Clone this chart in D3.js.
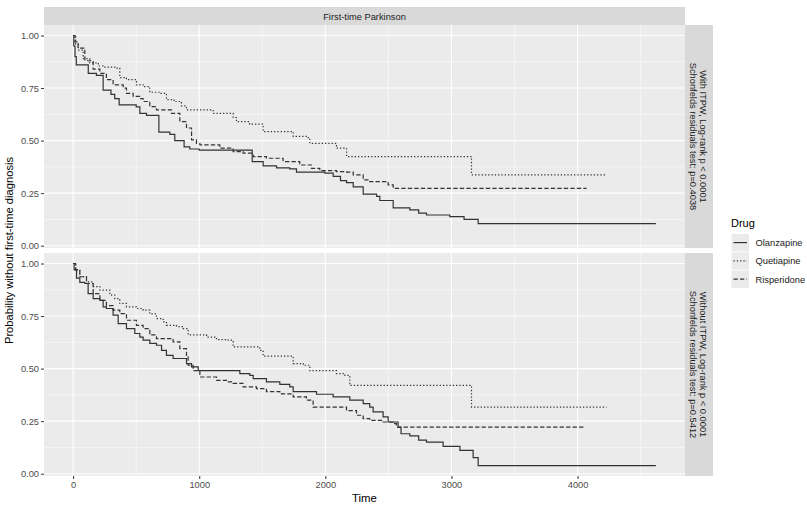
<!DOCTYPE html>
<html>
<head>
<meta charset="utf-8">
<script src="https://cdn.jsdelivr.net/npm/d3@7"></script>
<style>
  body { margin: 0; background: #fff; }
  svg { font-family: "Liberation Sans", Arial, sans-serif; }
</style>
</head>
<body>
<svg id="chart" width="807" height="506"></svg>
<script>
// survival curves: [time, probability]
const withOlanzapine = [[0,1],[5,0.95],[15,0.9],[25,0.86],[120,0.82],[185,0.81],[238,0.74],[300,0.72],[330,0.70],[365,0.67],[500,0.66],[529,0.63],[582,0.62],[680,0.54],[767,0.53],[806,0.50],[880,0.47],[925,0.46],[1000,0.455],[1420,0.40],[1507,0.38],[1613,0.37],[1718,0.365],[1771,0.35],[1996,0.345],[2062,0.33],[2120,0.31],[2168,0.30],[2221,0.28],[2300,0.245],[2406,0.235],[2432,0.215],[2538,0.18],[2670,0.17],[2740,0.155],[2802,0.146],[2987,0.138],[3100,0.125],[3212,0.105],[4621,0.105]];
const withQuetiapine = [[0,1],[20,0.96],[40,0.93],[80,0.89],[132,0.87],[200,0.855],[238,0.85],[330,0.845],[370,0.80],[423,0.79],[502,0.765],[555,0.757],[608,0.73],[687,0.725],[740,0.695],[800,0.686],[859,0.665],[899,0.646],[1110,0.63],[1269,0.61],[1295,0.59],[1400,0.578],[1507,0.543],[1745,0.52],[1864,0.51],[1877,0.487],[2088,0.464],[2168,0.424],[3159,0.337],[4230,0.337]];
const withRisperidone = [[0,1],[15,0.97],[40,0.94],[93,0.88],[159,0.84],[212,0.82],[264,0.79],[317,0.765],[397,0.75],[423,0.725],[476,0.71],[529,0.70],[555,0.686],[608,0.662],[661,0.646],[780,0.63],[846,0.59],[899,0.56],[939,0.503],[978,0.487],[1005,0.48],[1163,0.464],[1269,0.448],[1348,0.44],[1428,0.424],[1533,0.416],[1665,0.40],[1797,0.384],[1890,0.368],[1956,0.357],[2088,0.352],[2168,0.35],[2221,0.337],[2300,0.313],[2352,0.305],[2498,0.289],[2538,0.273],[4071,0.273]];

const withoutOlanzapine = [[0,1],[8,0.97],[27,0.93],[53,0.91],[93,0.905],[119,0.857],[159,0.833],[212,0.825],[238,0.794],[264,0.786],[317,0.754],[357,0.714],[423,0.69],[489,0.667],[529,0.65],[555,0.635],[608,0.62],[661,0.611],[701,0.587],[740,0.563],[793,0.548],[899,0.524],[939,0.508],[992,0.49],[1322,0.476],[1401,0.468],[1428,0.452],[1533,0.437],[1639,0.425],[1718,0.413],[1745,0.39],[1930,0.378],[2062,0.365],[2194,0.35],[2300,0.333],[2352,0.317],[2379,0.294],[2458,0.27],[2498,0.246],[2577,0.22],[2600,0.19],[2670,0.18],[2740,0.16],[2802,0.15],[2934,0.13],[3067,0.111],[3172,0.076],[3212,0.038],[4621,0.038]];
const withoutQuetiapine = [[0,1],[20,0.97],[53,0.937],[106,0.913],[159,0.89],[212,0.873],[291,0.85],[330,0.833],[370,0.81],[423,0.794],[502,0.786],[555,0.778],[608,0.76],[661,0.738],[714,0.722],[740,0.706],[819,0.70],[872,0.69],[912,0.66],[1058,0.65],[1137,0.638],[1216,0.635],[1269,0.603],[1480,0.587],[1507,0.559],[1745,0.524],[1824,0.516],[1877,0.49],[2088,0.476],[2155,0.468],[2194,0.42],[3159,0.317],[4230,0.317]];
const withoutRisperidone = [[0,1],[20,0.97],[53,0.937],[106,0.905],[159,0.857],[212,0.825],[264,0.80],[317,0.778],[370,0.762],[423,0.73],[502,0.706],[555,0.69],[608,0.66],[661,0.643],[793,0.627],[846,0.595],[899,0.556],[912,0.516],[952,0.49],[1005,0.46],[1137,0.444],[1216,0.437],[1269,0.43],[1348,0.413],[1454,0.405],[1533,0.39],[1639,0.38],[1745,0.365],[1850,0.35],[1903,0.317],[2168,0.30],[2247,0.278],[2300,0.262],[2352,0.254],[2458,0.246],[2538,0.238],[2564,0.222],[4058,0.222]];

const drugs = ["Olanzapine", "Quetiapine", "Risperidone"];
const dashes = {Olanzapine: null, Quetiapine: "1.3,2", Risperidone: "4.3,2.2"};
const xTicks = [0, 1000, 2000, 3000, 4000];
const xMinor = [500, 1500, 2500, 3500, 4500];
const yTicks = [0, 0.25, 0.5, 0.75, 1];
const yMinor = [0.125, 0.375, 0.625, 0.875];
const colTitle = "First-time Parkinson";
const panels = [
    {label: ["With ITPW, Log-rank p < 0.0001", "Schonfelds residuals test: p=0.4038"],
     curves: [withOlanzapine, withQuetiapine, withRisperidone], top: 25, bottom: 248},
    {label: ["Without ITPW, Log-rank p < 0.0001", "Schonfelds residuals test: p=0.5412"],
     curves: [withoutOlanzapine, withoutQuetiapine, withoutRisperidone], top: 253, bottom: 476}
];

const svg = d3.select("#chart");
const left = 44, right = 685, stripW = 28;
const x = d3.scaleLinear().domain([-231, 4852]).range([left, right]);
const lineCol = "#333333";
const small = 9.3;

// column strip
svg.append("rect").attr("x", left).attr("y", 7).attr("width", right - left).attr("height", 18).attr("fill", "#d9d9d9");
svg.append("text").attr("x", (left + right) / 2).attr("y", 20).attr("text-anchor", "middle")
    .attr("font-size", small).attr("fill", "#1a1a1a").text(colTitle);

panels.forEach((p, pi) => {
    const y = d3.scaleLinear().domain([-0.011, 1.05]).range([p.bottom, p.top]);
    const g = svg.append("g");
    g.append("rect").attr("x", left).attr("y", p.top).attr("width", right - left)
        .attr("height", p.bottom - p.top).attr("fill", "#ebebeb");

    // grid
    g.selectAll(".vmin").data(xMinor).enter().append("line")
        .attr("x1", d => x(d)).attr("x2", d => x(d)).attr("y1", p.top).attr("y2", p.bottom)
        .attr("stroke", "#fff").attr("stroke-width", 0.5);
    g.selectAll(".hmin").data(yMinor).enter().append("line")
        .attr("y1", d => y(d)).attr("y2", d => y(d)).attr("x1", left).attr("x2", right)
        .attr("stroke", "#fff").attr("stroke-width", 0.5);
    g.selectAll(".vmaj").data(xTicks).enter().append("line")
        .attr("x1", d => x(d)).attr("x2", d => x(d)).attr("y1", p.top).attr("y2", p.bottom)
        .attr("stroke", "#fff").attr("stroke-width", 1.1);
    g.selectAll(".hmaj").data(yTicks).enter().append("line")
        .attr("y1", d => y(d)).attr("y2", d => y(d)).attr("x1", left).attr("x2", right)
        .attr("stroke", "#fff").attr("stroke-width", 1.1);

    // curves
    const line = d3.line().x(d => x(d[0])).y(d => y(d[1])).curve(d3.curveStepAfter);
    p.curves.forEach((c, i) => {
        g.append("path").datum(c).attr("d", line).attr("fill", "none")
            .attr("stroke", lineCol).attr("stroke-width", 1.2)
            .attr("stroke-dasharray", dashes[drugs[i]]);
    });

    // y axis
    const ay = svg.append("g").attr("transform", `translate(${left},0)`)
        .call(d3.axisLeft(y).tickValues(yTicks).tickFormat(d3.format(".2f")).tickSize(3).tickPadding(2));
    ay.select(".domain").remove();
    ay.selectAll("line").attr("stroke", "#333");
    ay.selectAll("text").attr("font-size", small).attr("fill", "#4d4d4d")
        .attr("font-family", "Liberation Sans, Arial, sans-serif");

    // row strip
    svg.append("rect").attr("x", right).attr("y", p.top).attr("width", stripW)
        .attr("height", p.bottom - p.top).attr("fill", "#d9d9d9");
    const cy = (p.top + p.bottom) / 2;
    const st = svg.append("text").attr("transform", `translate(${right + stripW / 2},${cy}) rotate(90)`)
        .attr("text-anchor", "middle").attr("font-size", small).attr("fill", "#1a1a1a");
    st.append("tspan").attr("x", 0).attr("y", -1).text(p.label[0]);
    st.append("tspan").attr("x", 0).attr("y", 9).text(p.label[1]);

    if (pi === panels.length - 1) {
        const ax = svg.append("g").attr("transform", `translate(0,${p.bottom})`)
            .call(d3.axisBottom(x).tickValues(xTicks).tickFormat(d3.format("d")).tickSize(3).tickPadding(2));
        ax.select(".domain").remove();
        ax.selectAll("line").attr("stroke", "#333");
        ax.selectAll("text").attr("font-size", small).attr("fill", "#4d4d4d")
            .attr("font-family", "Liberation Sans, Arial, sans-serif");
    }
});

// axis titles
svg.append("text").attr("x", (left + right) / 2).attr("y", 501.5).attr("text-anchor", "middle")
    .attr("font-size", 11.4).attr("fill", "#000").text("Time");
svg.append("text").attr("transform", `translate(13,250.5) rotate(-90)`).attr("text-anchor", "middle")
    .attr("font-size", 11.2).attr("fill", "#000").text("Probability without first-time diagnosis");

// legend
const lg = svg.append("g").attr("transform", "translate(731,0)");
lg.append("text").attr("x", 0).attr("y", 226.5).attr("font-size", 11).attr("fill", "#000").text("Drug");
drugs.forEach((d, i) => {
    const ky = 234 + i * 18.3;
    lg.append("rect").attr("x", 0.5).attr("y", ky).attr("width", 17.5).attr("height", 17.3).attr("fill", "#ebebeb");
    lg.append("line").attr("x1", 2.5).attr("x2", 16).attr("y1", ky + 8.6).attr("y2", ky + 8.6)
        .attr("stroke", lineCol).attr("stroke-width", 1.2).attr("stroke-dasharray", dashes[d]);
    lg.append("text").attr("x", 24.5).attr("y", ky + 12).attr("font-size", small).attr("fill", "#1a1a1a").text(d);
});
</script>
</body>
</html>
